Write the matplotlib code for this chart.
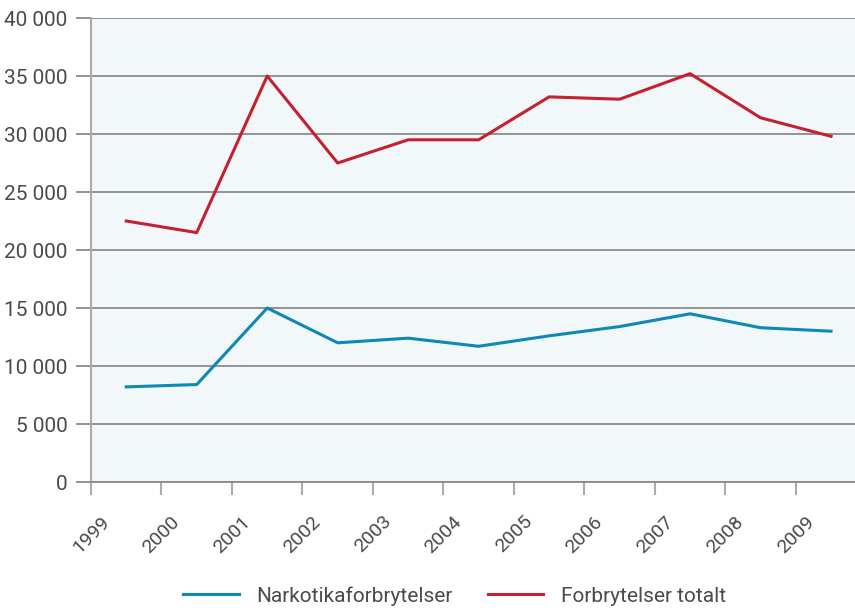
import matplotlib
matplotlib.use("Agg")
from matplotlib import pyplot as plt
from matplotlib.ticker import FuncFormatter
import numpy as np

# data ------------------------------------------
years = ['1999', '2000', '2001', '2002', '2003', '2004',
         '2005', '2006', '2007', '2008', '2009']
narkotika = [8200, 8400, 15000, 12000, 12400, 11700,
             12600, 13400, 14500, 13300, 13000]
totalt = [22500, 21500, 35000, 27500, 29500, 29500,
          33200, 33000, 35200, 31400, 29800]
#------------------------------------------------

plt.rcParams['font.family'] = ['Roboto', 'DejaVu Sans']

blue = '#0e88b4'
red = '#c4202f'
grey = '#8a8a8a'
txt = '#4a4a4a'

fig = plt.figure(figsize=(8.55, 6.11), dpi=100)
ax = fig.add_axes([91/855, 1-482/611, 1-91/855, (482-18)/611])
ax.set_facecolor('#f2f7fa')

x = np.arange(len(years)) + 0.5
ax.plot(x, narkotika, color=blue, lw=2.2, label='Narkotikaforbrytelser')
ax.plot(x, totalt, color=red, lw=2.2, label='Forbrytelser totalt')

ax.set_xlim(0, 10.84)
ax.set_ylim(0, 40000)
ax.set_yticks(np.arange(0, 40001, 5000))
ax.yaxis.set_major_formatter(FuncFormatter(lambda v, p: '{:,.0f}'.format(v).replace(',', ' ')))
ax.grid(axis='y', color=grey, lw=1.3)
ax.set_axisbelow(True)

ax.set_xticks(np.arange(len(years)))
ax.set_xticklabels(years, rotation=45, ha='center', va='top')

for s in ['top', 'right']:
    ax.spines[s].set_visible(False)
ax.spines['left'].set_color('#aaaaaa')
ax.spines['left'].set_linewidth(1.5)
ax.spines['bottom'].set_color(grey)
ax.spines['bottom'].set_linewidth(1.3)

ax.tick_params(axis='y', length=11, width=1.3, color=grey, labelsize=15, labelcolor=txt, pad=6)
ax.tick_params(axis='x', length=9, width=1.5, color='#aaaaaa', labelsize=14, labelcolor=txt, pad=13)

fig.legend(loc='lower center', bbox_to_anchor=(0.532, -0.022), ncol=2, frameon=False,
           fontsize=15, handlelength=2.65, handletextpad=0.85, columnspacing=1.7,
           labelcolor=txt)

fig.savefig('out.png', dpi=100)
